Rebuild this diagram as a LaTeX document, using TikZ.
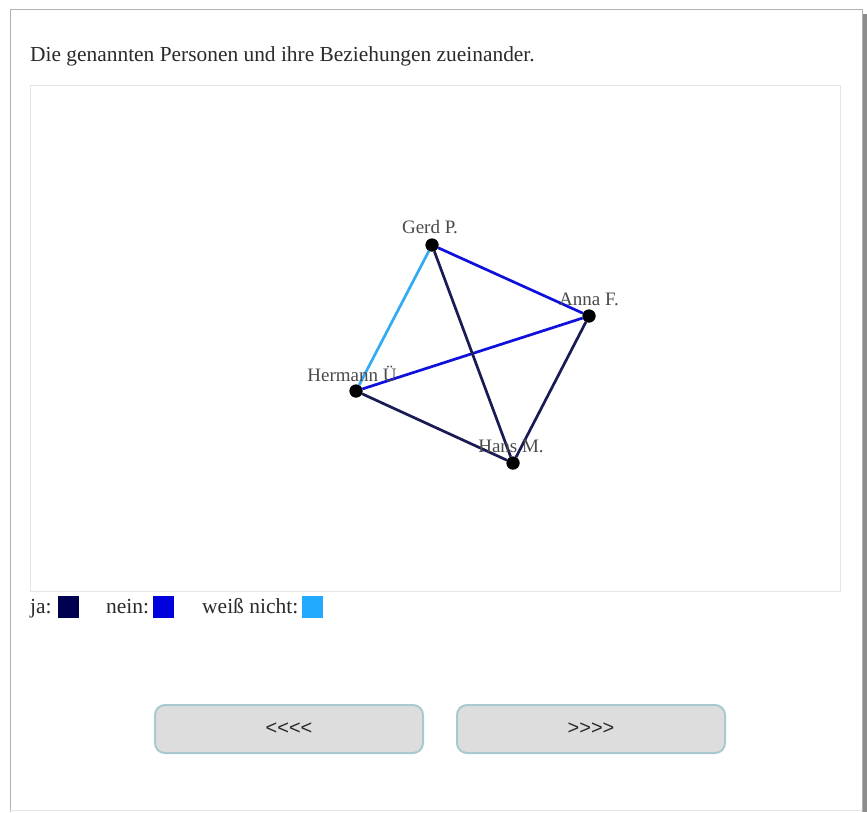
\documentclass[tikz,border=0pt]{standalone}
\usepackage{fontspec}
\setmainfont{Liberation Serif}
\newfontfamily\btnfont{Liberation Sans}
\definecolor{ja}{HTML}{1A1A55}
\definecolor{jasq}{HTML}{000050}
\definecolor{nein}{HTML}{1010DD}
\definecolor{neinsq}{HTML}{0000DD}
\definecolor{wn}{HTML}{33AAF5}
\definecolor{wnsq}{HTML}{22AAFF}
\definecolor{txt}{HTML}{2A2A2A}
\definecolor{lbl}{HTML}{4A4A4A}
\definecolor{btnfill}{HTML}{DDDDDD}
\definecolor{btnborder}{HTML}{A8CACF}
\begin{document}
\begin{tikzpicture}[x=1pt,y=-1pt,
  person/.style={circle,fill=black,inner sep=0pt,minimum size=13pt},
  plabel/.style={text=lbl,font=\fontsize{19}{21}\selectfont,inner sep=0pt},
  edge/.style={line width=2.7pt},
  legtext/.style={text=txt,font=\fontsize{21.5}{23}\selectfont,anchor=base west,inner sep=0pt},
  legsq/.style={minimum width=21pt,minimum height=22pt,inner sep=0pt,anchor=north west},
  btn/.style={draw=btnborder,line width=2pt,fill=btnfill,rounded corners=10pt,minimum width=268pt,minimum height=48pt,text=txt,font=\btnfont\fontsize{20}{22}\selectfont}
]
\useasboundingbox (0,0) rectangle (867,812);
% page frame and shadow
\fill[white] (0,0) rectangle (867,812);
\fill[gray!90] (862,14) rectangle (867,812);
\draw[gray!60,line width=1pt] (10,812) -- (10,9.5) -- (862,9.5) -- (862,812);
\draw[gray!20,line width=1pt] (10,810.5) -- (862,810.5);
% title
\node[text=txt,font=\fontsize{21.4}{23}\selectfont,anchor=base west,inner sep=0pt] (title) at (30,61) {Die genannten Personen und ihre Beziehungen zueinander.};
% inner box
\draw[gray!20,line width=1.2pt] (30.5,85.5) rectangle (840.5,591.5);
% persons
\node[person] (gerd) at (432,245) {};
\node[person] (anna) at (589,316) {};
\node[person] (herm) at (356,391) {};
\node[person] (hans) at (513,463) {};
% edges
\draw[edge,wn] (gerd) -- (herm);
\draw[edge,nein] (gerd) -- (anna);
\draw[edge,nein] (herm) -- (anna);
\draw[edge,ja] (gerd) -- (hans);
\draw[edge,ja] (herm) -- (hans);
\draw[edge,ja] (anna) -- (hans);
\node[person] at (gerd) {};
\node[person] at (anna) {};
\node[person] at (herm) {};
\node[person] at (hans) {};
% labels
\node[plabel] (lgerd) at (430,227) {Gerd P.};
\node[plabel] (lanna) at (589,299) {Anna F.};
\node[plabel] (lherm) at (352,374) {Hermann Ü};
\node[plabel] (lhans) at (511,446) {Hans M.};
% legend
\node[legtext] (lja) at (30,613) {ja:};
\node[legsq,fill=jasq] (sqja) at (58,596) {};
\node[legtext] (lnein) at (106,613) {nein:};
\node[legsq,fill=neinsq] (sqnein) at (153,596) {};
\node[legtext] (lwn) at (202,613) {weiß nicht:};
\node[legsq,fill=wnsq] (sqwn) at (302,596) {};
% buttons
\node[btn] (back) at (289,729) {<<<<};
\node[btn] (next) at (591,729) {>>>>};
\end{tikzpicture}
\end{document}
